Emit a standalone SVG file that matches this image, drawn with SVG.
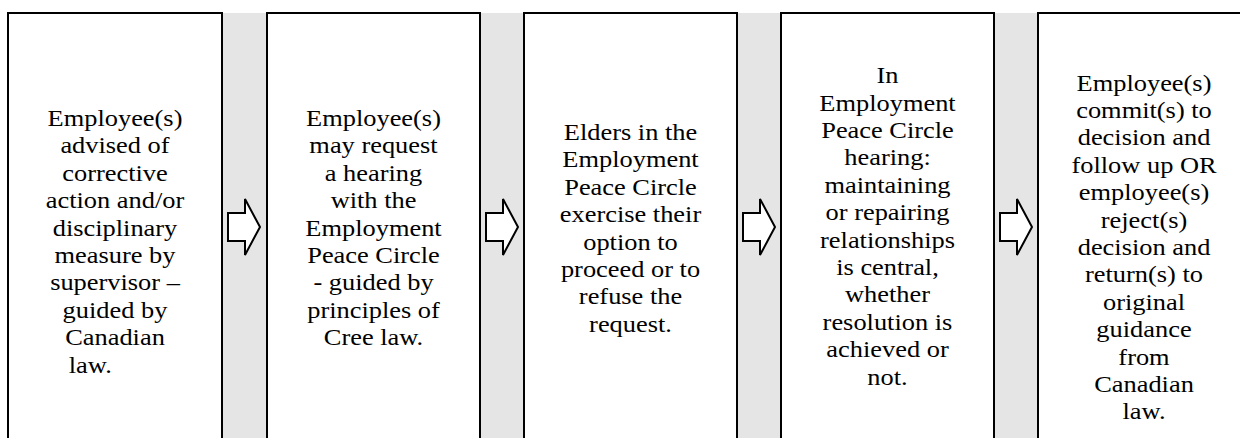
<svg xmlns="http://www.w3.org/2000/svg" width="1240" height="438" viewBox="0 0 1240 438">
<g fill="#e5e5e5">
<rect x="222" y="13" width="45" height="430"/>
<rect x="480" y="13" width="44" height="430"/>
<rect x="737" y="13" width="44" height="430"/>
<rect x="994" y="13" width="44" height="430"/>
</g>
<g fill="#ffffff" stroke="#000000" stroke-width="2">
<rect id="box1" x="8" y="13" width="214" height="430"/>
<rect id="box2" x="267" y="13" width="213" height="430"/>
<rect id="box3" x="524" y="13" width="213" height="430"/>
<rect id="box4" x="781" y="13" width="213" height="430"/>
<rect id="box5" x="1038" y="13" width="214" height="430"/>
</g>
<g id="node1" transform="translate(115 0) scale(1.1 1)">
<text x="0" y="126" font-family="Liberation Serif" font-size="24" text-anchor="middle">Employee(s)</text>
<text x="0" y="153.4" font-family="Liberation Serif" font-size="24" text-anchor="middle">advised of</text>
<text x="0" y="180.8" font-family="Liberation Serif" font-size="24" text-anchor="middle">corrective</text>
<text x="0" y="208.2" font-family="Liberation Serif" font-size="24" text-anchor="middle">action and/or</text>
<text x="0" y="235.6" font-family="Liberation Serif" font-size="24" text-anchor="middle">disciplinary</text>
<text x="0" y="263" font-family="Liberation Serif" font-size="24" text-anchor="middle">measure by</text>
<text x="0" y="290.4" font-family="Liberation Serif" font-size="24" text-anchor="middle">supervisor –</text>
<text x="0" y="317.8" font-family="Liberation Serif" font-size="24" text-anchor="middle">guided by</text>
<text x="0" y="345.2" font-family="Liberation Serif" font-size="24" text-anchor="middle">Canadian</text>
<text x="-22.5" y="372.6" font-family="Liberation Serif" font-size="24" text-anchor="middle">law.</text>
</g>
<g id="node2" transform="translate(373.5 0) scale(1.1 1)">
<text x="0" y="126" font-family="Liberation Serif" font-size="24" text-anchor="middle">Employee(s)</text>
<text x="0" y="153.4" font-family="Liberation Serif" font-size="24" text-anchor="middle">may request</text>
<text x="0" y="180.8" font-family="Liberation Serif" font-size="24" text-anchor="middle">a hearing</text>
<text x="0" y="208.2" font-family="Liberation Serif" font-size="24" text-anchor="middle">with the</text>
<text x="0" y="235.6" font-family="Liberation Serif" font-size="24" text-anchor="middle">Employment</text>
<text x="0" y="263" font-family="Liberation Serif" font-size="24" text-anchor="middle">Peace Circle</text>
<text x="0" y="290.4" font-family="Liberation Serif" font-size="24" text-anchor="middle">- guided by</text>
<text x="0" y="317.8" font-family="Liberation Serif" font-size="24" text-anchor="middle">principles of</text>
<text x="0" y="345.2" font-family="Liberation Serif" font-size="24" text-anchor="middle">Cree law.</text>
</g>
<g id="node3" transform="translate(630.5 0) scale(1.1 1)">
<text x="0" y="140" font-family="Liberation Serif" font-size="24" text-anchor="middle">Elders in the</text>
<text x="0" y="167.4" font-family="Liberation Serif" font-size="24" text-anchor="middle">Employment</text>
<text x="0" y="194.8" font-family="Liberation Serif" font-size="24" text-anchor="middle">Peace Circle</text>
<text x="0" y="222.2" font-family="Liberation Serif" font-size="24" text-anchor="middle">exercise their</text>
<text x="0" y="249.6" font-family="Liberation Serif" font-size="24" text-anchor="middle">option to</text>
<text x="0" y="277" font-family="Liberation Serif" font-size="24" text-anchor="middle">proceed or to</text>
<text x="0" y="304.4" font-family="Liberation Serif" font-size="24" text-anchor="middle">refuse the</text>
<text x="0" y="331.8" font-family="Liberation Serif" font-size="24" text-anchor="middle">request.</text>
</g>
<g id="node4" transform="translate(887.5 0) scale(1.1 1)">
<text x="0" y="83.3" font-family="Liberation Serif" font-size="24" text-anchor="middle">In</text>
<text x="0" y="110.7" font-family="Liberation Serif" font-size="24" text-anchor="middle">Employment</text>
<text x="0" y="138.1" font-family="Liberation Serif" font-size="24" text-anchor="middle">Peace Circle</text>
<text x="0" y="165.5" font-family="Liberation Serif" font-size="24" text-anchor="middle">hearing:</text>
<text x="0" y="192.9" font-family="Liberation Serif" font-size="24" text-anchor="middle">maintaining</text>
<text x="0" y="220.3" font-family="Liberation Serif" font-size="24" text-anchor="middle">or repairing</text>
<text x="0" y="247.7" font-family="Liberation Serif" font-size="24" text-anchor="middle">relationships</text>
<text x="0" y="275.1" font-family="Liberation Serif" font-size="24" text-anchor="middle">is central,</text>
<text x="0" y="302.5" font-family="Liberation Serif" font-size="24" text-anchor="middle">whether</text>
<text x="0" y="329.9" font-family="Liberation Serif" font-size="24" text-anchor="middle">resolution is</text>
<text x="0" y="357.3" font-family="Liberation Serif" font-size="24" text-anchor="middle">achieved or</text>
<text x="0" y="384.7" font-family="Liberation Serif" font-size="24" text-anchor="middle">not.</text>
</g>
<g id="node5" transform="translate(1144 0) scale(1.1 1)">
<text x="0" y="90.7" font-family="Liberation Serif" font-size="24" text-anchor="middle">Employee(s)</text>
<text x="0" y="118.1" font-family="Liberation Serif" font-size="24" text-anchor="middle">commit(s) to</text>
<text x="0" y="145.5" font-family="Liberation Serif" font-size="24" text-anchor="middle">decision and</text>
<text x="0" y="172.9" font-family="Liberation Serif" font-size="24" text-anchor="middle">follow up OR</text>
<text x="0" y="200.3" font-family="Liberation Serif" font-size="24" text-anchor="middle">employee(s)</text>
<text x="0" y="227.7" font-family="Liberation Serif" font-size="24" text-anchor="middle">reject(s)</text>
<text x="0" y="255.1" font-family="Liberation Serif" font-size="24" text-anchor="middle">decision and</text>
<text x="0" y="282.5" font-family="Liberation Serif" font-size="24" text-anchor="middle">return(s) to</text>
<text x="0" y="309.9" font-family="Liberation Serif" font-size="24" text-anchor="middle">original</text>
<text x="0" y="337.3" font-family="Liberation Serif" font-size="24" text-anchor="middle">guidance</text>
<text x="0" y="364.7" font-family="Liberation Serif" font-size="24" text-anchor="middle">from</text>
<text x="0" y="392.1" font-family="Liberation Serif" font-size="24" text-anchor="middle">Canadian</text>
<text x="0" y="419.5" font-family="Liberation Serif" font-size="24" text-anchor="middle">law.</text>
</g>
<g id="connectors" fill="#ffffff" stroke="#000000" stroke-width="2">
<polygon points="228,213 245,213 245,199 260,227 245,255 245,241 228,241"/>
<polygon points="486,213 503,213 503,199 518,227 503,255 503,241 486,241"/>
<polygon points="743,213 760,213 760,199 775,227 760,255 760,241 743,241"/>
<polygon points="1000,213 1017,213 1017,199 1032,227 1017,255 1017,241 1000,241"/>
</g>
</svg>
